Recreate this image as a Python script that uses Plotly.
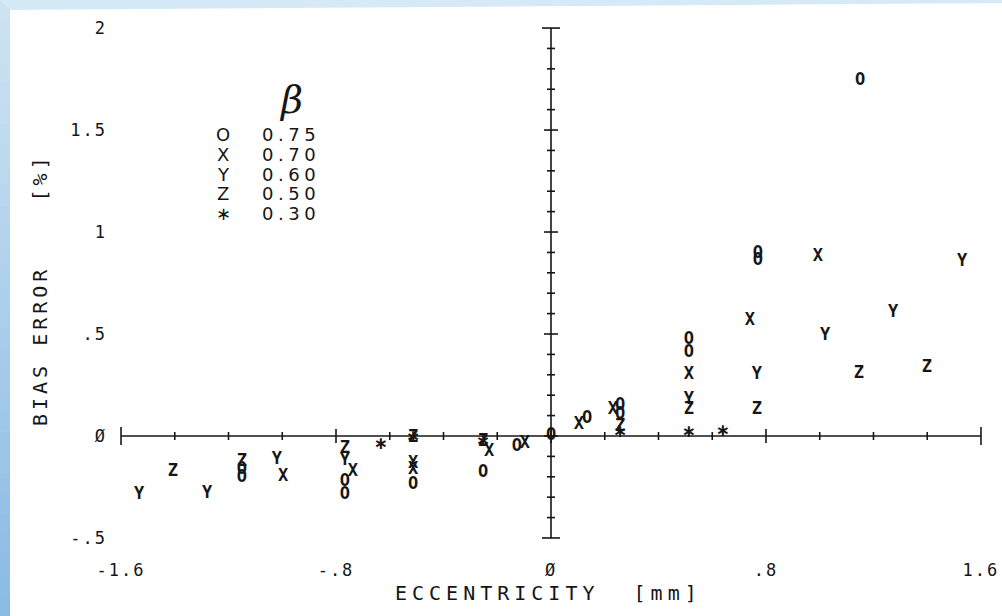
import plotly.graph_objects as go
import numpy as np

# ---------------- data ----------------
beta_labels = ["0.75", "0.70", "0.60", "0.50", "0.30"]
symbols = ["O", "X", "Y", "Z", "\u2217"]

o_x = [-1.15, -1.15, -0.767, -0.767, -0.513, -0.253, -0.127, 0.0, 0.134, 0.257, 0.257, 0.513, 0.513, 0.77, 0.77, 1.15]
o_y = [-0.165, -0.205, -0.224, -0.29, -0.24, -0.18, -0.053, 0.0, 0.083, 0.147, 0.103, 0.47, 0.41, 0.895, 0.86, 1.74]

x_x = [-0.997, -0.737, -0.513, -0.513, -0.23, -0.097, 0.104, 0.23, 0.513, 0.74, 0.993]
x_y = [-0.20, -0.176, -0.134, -0.167, -0.078, -0.04, 0.054, 0.127, 0.30, 0.564, 0.88]

y_x = [-1.533, -1.28, -1.02, -0.767, 0.513, 0.766, 1.02, 1.273, 1.53]
y_y = [-0.29, -0.284, -0.115, -0.12, 0.176, 0.30, 0.49, 0.603, 0.853]

z_x = [-1.407, -1.15, -0.767, -0.513, -0.253, 0.257, 0.513, 0.766, 1.146, 1.399]
z_y = [-0.176, -0.127, -0.064, -0.01, -0.03, 0.046, 0.127, 0.127, 0.304, 0.333]

s_x = [-0.633, -0.513, -0.253, 0.257, 0.513, 0.64]
s_y = [-0.044, -0.01, -0.03, 0.015, 0.015, 0.02]

x_tick_vals = [-1.6, -0.8, 0.0, 0.8, 1.6]
x_tick_text = ["-1.6", "-.8", "\u00d8", ".8", "1.6"]
y_tick_vals = [-0.5, 0.0, 0.5, 1.0, 1.5, 2.0]
y_tick_text = ["-.5", "\u00d8", ".5", "1", "1.5", "2"]

x_title = "ECCENTRICITY\u00a0\u00a0[mm]"
y_title = "BIAS\u00a0ERROR\u00a0\u00a0\u00a0\u00a0[%]"

# ---------------- layout helpers ----------------
W, H = 1002, 616
L, R, T, B = 110, 10, 15, 66
PW, PH = W - L - R, H - T - B
x_range = [-1.641, 1.641]
y_range = [-0.559, 2.064]


def pxx(p):
    return (p - L) / PW


def pxy(p):
    return 1 - (p - T) / PH


def spaced(s, px):
    return '<span style="letter-spacing:%.1fpx">%s</span>' % (px, s)


INK = "#161616"
MARK_FONT = dict(family="DejaVu Sans Mono", size=17, color=INK, weight="bold")
STAR_FONT = dict(family="DejaVu Sans", size=17, color=INK, weight="bold")

fig = go.Figure()
series = [(o_x, o_y), (x_x, x_y), (y_x, y_y), (z_x, z_y), (s_x, s_y)]
for k, ((xs, ys), sym, lab) in enumerate(zip(series, symbols, beta_labels)):
    fig.add_trace(go.Scatter(
        x=xs, y=ys, mode="text", text=[sym] * len(xs),
        textposition="middle center", textfont=STAR_FONT if k == 4 else MARK_FONT,
        name="\u03b2 = " + lab, showlegend=False, cliponaxis=False,
        hoverinfo="x+y+name"))

shapes = []
# background border of the scan
n_seg = 30
c_top = np.array([207, 228, 243])
c_bot = np.array([138, 186, 228])
for i in range(n_seg):
    t0 = i / n_seg
    t1 = (i + 1) / n_seg
    c = (c_top + (c_bot - c_top) * (t0 + t1) / 2).astype(int)
    shapes.append(dict(type="rect", xref="paper", yref="paper", layer="below",
                       x0=pxx(0), x1=pxx(10), y0=pxy(H * t0), y1=pxy(H * t1 + 0.5),
                       fillcolor="rgb(%d,%d,%d)" % tuple(c), line=dict(width=0)))
shapes.append(dict(type="path", xref="paper", yref="paper", layer="below",
                   path="M %f,%f L %f,%f L %f,%f L %f,%f Z" % (
                       pxx(0), pxy(0), pxx(W), pxy(0), pxx(W), pxy(3), pxx(10), pxy(10)),
                   fillcolor="rgb(214,233,246)", line=dict(width=0)))

# cross axes through the origin
ax_line = dict(color=INK, width=1.6)
shapes.append(dict(type="line", xref="x", yref="y", x0=-1.6, x1=1.6, y0=0, y1=0, line=ax_line))
shapes.append(dict(type="line", xref="x", yref="y", x0=0, x1=0, y0=-0.5, y1=2.0, line=ax_line))
for xv in np.round(np.arange(-1.6, 1.601, 0.2), 3):
    if abs(abs(xv) - 1.6) < 1e-6:
        h = 9 / 204
    elif abs(abs(xv) - 0.8) < 1e-6 or abs(xv) < 1e-6:
        h = 7 / 204
    else:
        h = 4 / 204
    shapes.append(dict(type="line", xref="x", yref="y", x0=xv, x1=xv, y0=-h, y1=h, line=ax_line))
for yv in np.round(np.arange(-0.5, 2.001, 0.1), 3):
    if abs(yv + 0.5) < 1e-6 or abs(yv - 2.0) < 1e-6:
        h = 9 / 268.75
    elif abs(yv * 2 - round(yv * 2)) < 1e-6:
        h = 7 / 268.75
    else:
        h = 4 / 268.75
    shapes.append(dict(type="line", xref="x", yref="y", x0=-h, x1=h, y0=yv, y1=yv, line=ax_line))

annotations = []
# axis titles
annotations.append(dict(xref="paper", yref="paper", x=pxx(548), y=pxy(593), text=spaced(x_title, 5),
                        showarrow=False, xanchor="center", yanchor="middle",
                        font=dict(family="DejaVu Sans Mono", size=20, color=INK)))
annotations.append(dict(xref="paper", yref="paper", x=pxx(40), y=pxy(290), text=spaced(y_title, 4),
                        showarrow=False, xanchor="center", yanchor="middle", textangle=-90,
                        font=dict(family="DejaVu Sans Mono", size=20, color=INK)))
# legend block
annotations.append(dict(xref="paper", yref="paper", x=pxx(291), y=pxy(100), text="\u03b2",
                        showarrow=False, xanchor="center", yanchor="middle",
                        font=dict(family="DejaVu Serif", size=38, color=INK, style="italic")))
row_y = [134, 154, 174, 193, 213]
for ry, sym, lab in zip(row_y, symbols, beta_labels):
    annotations.append(dict(xref="paper", yref="paper", x=pxx(223), y=pxy(ry), text=sym,
                            showarrow=False, xanchor="center", yanchor="middle",
                            font=dict(family="DejaVu Sans", size=18, color=INK)))
    annotations.append(dict(xref="paper", yref="paper", x=pxx(291), y=pxy(ry), text=spaced(lab, 4.5),
                            showarrow=False, xanchor="center", yanchor="middle",
                            font=dict(family="DejaVu Sans", size=18, color=INK)))

fig.update_layout(
    width=W, height=H, margin=dict(l=L, r=R, t=T, b=B, autoexpand=False),
    paper_bgcolor="white", plot_bgcolor="white",
    shapes=shapes, annotations=annotations, showlegend=False,
    xaxis=dict(range=x_range, showgrid=False, zeroline=False, showline=False, automargin=False,
               tickmode="array", tickvals=x_tick_vals, ticks="",
               ticktext=[spaced(t, 2) for t in x_tick_text],
               ticklabelstandoff=8,
               tickfont=dict(family="DejaVu Sans Mono", size=17, color=INK), fixedrange=True),
    yaxis=dict(range=y_range, showgrid=False, zeroline=False, showline=False, automargin=False,
               tickmode="array", tickvals=y_tick_vals, ticks="",
               ticktext=[spaced(t, 2) for t in y_tick_text],
               ticklabelstandoff=2,
               tickfont=dict(family="DejaVu Sans Mono", size=17, color=INK), fixedrange=True),
)

fig.write_html("out.html", config={"displayModeBar": False},
               post_script="document.body.style.margin='0';document.body.style.overflow='hidden';")
